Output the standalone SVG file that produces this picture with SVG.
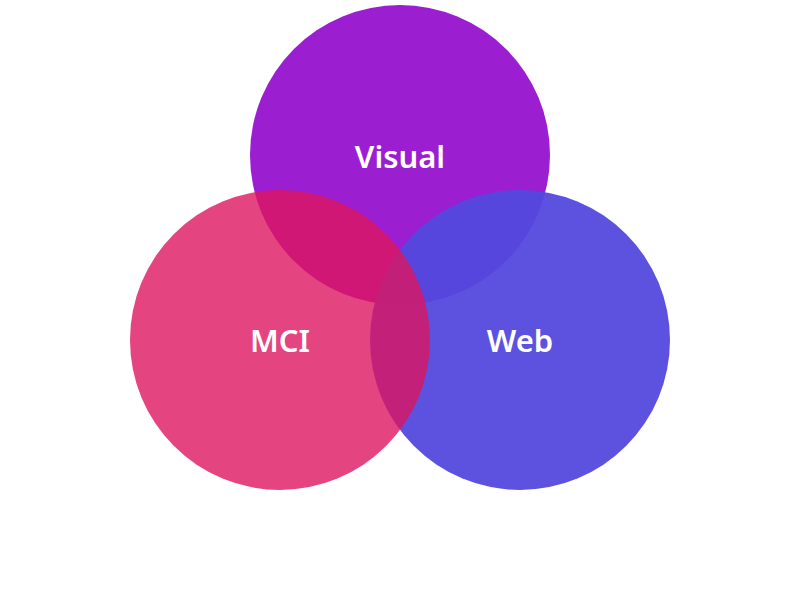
<svg xmlns="http://www.w3.org/2000/svg" width="800" height="600" viewBox="0 0 800 600">
<style>
.lbl{font-family:"Noto Sans","Open Sans",sans-serif;font-size:31px;font-weight:600;fill:#fff;text-anchor:middle;dominant-baseline:central}
</style>
<rect width="800" height="600" fill="#fff"/>
<g id="visual"><circle cx="400" cy="155" r="150" fill="#9B1FD1"/></g>
<g id="web"><circle cx="520" cy="340" r="150" fill="#5349DD" fill-opacity="0.95"/></g>
<g id="mci"><circle cx="280" cy="340" r="150" fill="#DD155F" fill-opacity="0.8"/></g>
<g id="labels">
<text class="lbl" x="400" y="156">Visual</text>
<text class="lbl" x="280" y="340">MCI</text>
<text class="lbl" x="520" y="340">Web</text>
</g>
</svg>
